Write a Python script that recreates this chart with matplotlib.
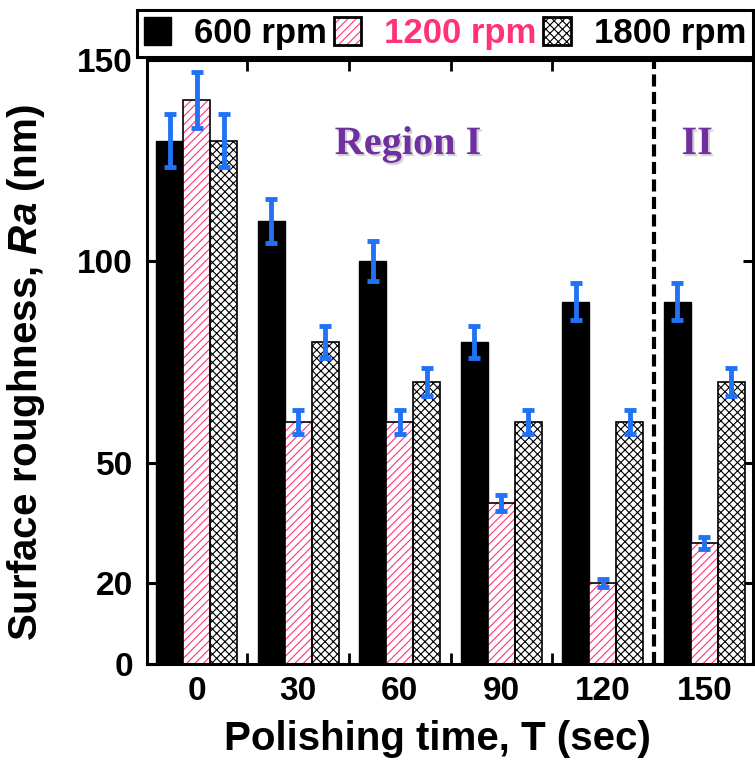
import matplotlib
matplotlib.use('Agg')
import matplotlib.pyplot as plt
import matplotlib.patheffects as pe
from matplotlib.patches import Patch
from matplotlib.legend_handler import HandlerTuple
import numpy as np

# data
times = ['0', '30', '60', '90', '120', '150']
ra_600 = [130, 110, 100, 80, 90, 90]
ra_1200 = [140, 60, 60, 40, 20, 30]
ra_1800 = [130, 80, 70, 60, 60, 70]
err_600 = [6.5, 5.5, 5, 4, 4.5, 4.5]
err_1200 = [7, 3, 3, 2, 1, 1.5]
err_1800 = [6.5, 4, 3.5, 3, 3, 3.5]
labels = ['600 rpm', '1200 rpm', '1800 rpm']
yticks = [0, 20, 50, 100, 150]

plt.rcParams['font.family'] = ['Liberation Sans', 'DejaVu Sans']
plt.rcParams['font.weight'] = 'bold'
plt.rcParams['axes.labelweight'] = 'bold'
plt.rcParams['mathtext.fontset'] = 'custom'
plt.rcParams['mathtext.rm'] = 'Liberation Sans:bold'
plt.rcParams['mathtext.bfit'] = 'Liberation Sans:italic:bold'
plt.rcParams['hatch.linewidth'] = 0.8

PINK = '#ff3377'
BLUE = '#2272f5'
w = 0.265

fig = plt.figure(figsize=(7.55, 7.6), dpi=100)
ax = fig.add_axes([147 / 755, 1 - 664 / 760, (753 - 147) / 755, (664 - 60) / 760])

x = np.arange(len(times))

# 600 rpm, solid black
ax.bar(x - w, ra_600, w, color='black', edgecolor='black', lw=1.0, zorder=2)
# 1200 rpm, pink hatch + black outline
ax.bar(x, ra_1200, w, facecolor='white', edgecolor=PINK, hatch='////', lw=0, zorder=2)
ax.bar(x, ra_1200, w, fill=False, edgecolor='black', lw=1.2, zorder=3)
# 1800 rpm, dense crosshatch
ax.bar(x + w, ra_1800, w, facecolor='white', edgecolor='black', hatch='xxxx', lw=1.2, zorder=2)

ekw = dict(fmt='none', ecolor=BLUE, elinewidth=3.5, capsize=4.5, capthick=3.5, zorder=5)
ax.errorbar(x - w, ra_600, yerr=err_600, **ekw)
ax.errorbar(x, ra_1200, yerr=err_1200, **ekw)
ax.errorbar(x + w, ra_1800, yerr=err_1800, **ekw)

ax.axvline(4.5, color='black', lw=3, linestyle=(0, (2.9, 1.3)), zorder=4)

ax.set_xlim(-0.49, 5.48)
ax.set_ylim(0, 150)

ax.set_xticks(x)
ax.set_xticklabels(times)
ax.set_xticks([0.5, 1.5, 2.5, 3.5], minor=True)
ax.tick_params(axis='x', which='major', length=0, pad=9, labelsize=24)
ax.tick_params(axis='x', which='minor', direction='in', length=8, width=2, top=True)
ax.set_yticks(yticks)
ax.tick_params(axis='y', direction='in', length=7, width=2.2, right=True, pad=10, labelsize=24)
for s in ax.spines.values():
    s.set_linewidth(2.2)

ax.set_xlabel('Polishing time, T (sec)', fontsize=29)
ax.set_ylabel('Surface roughness, $\\mathbfit{Ra}$ (nm)', fontsize=29)
ax.xaxis.set_label_coords(0.48, -0.092)
ax.yaxis.set_label_coords(-0.165, 0.483)

shadow = [pe.SimplePatchShadow(offset=(1.5, -1.5), shadow_rgbFace='gray', alpha=0.35), pe.Normal()]
ax.text(2.08, 129, 'Region I', color='#7030a0', fontsize=29, ha='center', va='center',
        family='Liberation Serif', weight='bold', path_effects=shadow)
ax.text(4.93, 129, 'II', color='#7030a0', fontsize=29, ha='center', va='center',
        family='Liberation Serif', weight='bold', path_effects=shadow)

h600 = Patch(facecolor='black', edgecolor='black')
h1200 = (Patch(facecolor='white', edgecolor=PINK, hatch='////', lw=0),
         Patch(fill=False, edgecolor='black', lw=2))
h1800 = Patch(facecolor='white', edgecolor='black', hatch='xxxx', lw=2)
leg = ax.legend([h600, h1200, h1800], labels, ncol=3, loc='upper right',
                bbox_to_anchor=(753 / 755, 1 - 10 / 760), bbox_transform=fig.transFigure,
                borderaxespad=0, fontsize=25, handlelength=0.8, handleheight=0.85,
                handletextpad=0.65, columnspacing=0.2, borderpad=0.2, fancybox=False,
                framealpha=1, edgecolor='black',
                handler_map={tuple: HandlerTuple(ndivide=1, pad=0)})
leg.get_frame().set_linewidth(2.2)
leg.texts[1].set_color(PINK)

fig.savefig('out.png', dpi=100)
